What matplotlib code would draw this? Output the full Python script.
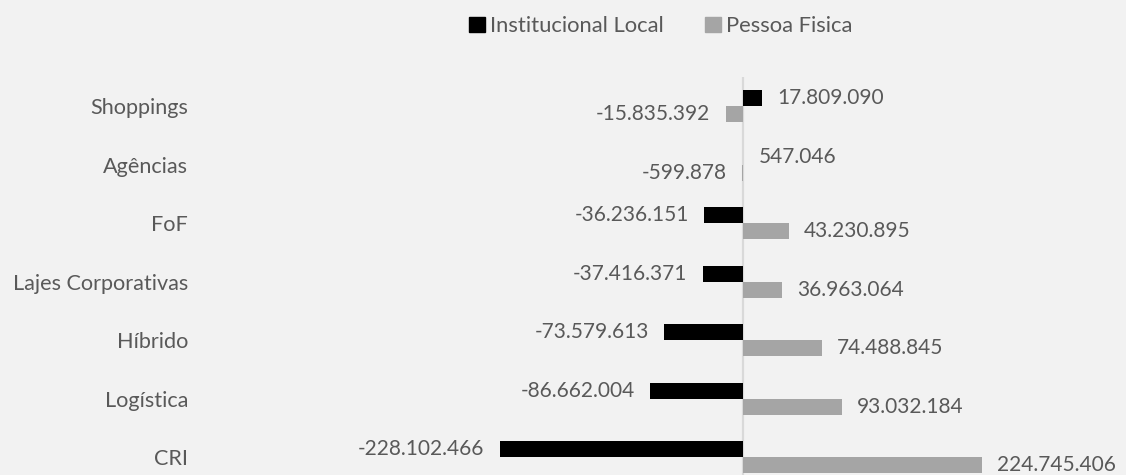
import matplotlib.pyplot as plt
from matplotlib.patches import Patch

# data (Shoppings at top)
categories = ["Shoppings", "Agências", "FoF", "Lajes Corporativas", "Híbrido", "Logística", "CRI"]
institucional_local = [17809090, 547046, -36236151, -37416371, -73579613, -86662004, -228102466]
pessoa_fisica = [-15835392, -599878, 43230895, 36963064, 74488845, 93032184, 224745406]
series_names = ["Institucional Local", "Pessoa Fisica"]

BG = "#F2F2F2"
TXT = "#595959"
plt.rcParams["font.family"] = ["Lato", "DejaVu Sans"]


def fmt_br(v):
    return f"{v:,}".replace(",", ".")


fig = plt.figure(figsize=(11.26, 4.75), dpi=100, facecolor=BG)
ax = fig.add_axes([0.18, -0.024, 0.82, 0.862])
ax.set_facecolor(BG)

h = 0.275
pos = list(range(len(categories)))
y_inst = [p - h / 2 for p in pos]
y_pf = [p + h / 2 for p in pos]

ax.axvline(0, color="#D9D9D9", lw=1.6, zorder=1)
ax.barh(y_inst, institucional_local, height=h, color="black", zorder=2)
ax.barh(y_pf, pessoa_fisica, height=h, color="#A5A5A5", zorder=2)

# data labels at the outer end of each bar
for ys, vals in [(y_inst, institucional_local), (y_pf, pessoa_fisica)]:
    for y, v in zip(ys, vals):
        off = 11 if v >= 0 else -11
        ax.annotate(fmt_br(v), (v, y), xytext=(off, 0), textcoords="offset points",
                    ha="left" if v >= 0 else "right", va="center",
                    fontsize=15, color=TXT)

ax.set_xlim(-507e6, 360e6)
ax.set_ylim(len(categories) - 0.5, -0.5)
ax.set_yticks(pos)
ax.set_yticklabels(categories, fontsize=15.6, color=TXT)
ax.tick_params(axis="y", length=0, pad=10.5)
ax.set_xticks([])
for s in ax.spines.values():
    s.set_visible(False)

handles = [Patch(color="black"), Patch(color="#A5A5A5")]
leg = fig.legend(handles, series_names, loc="center", bbox_to_anchor=(0.587, 0.945),
                 ncol=2, frameon=False, fontsize=15.8, handlelength=0.7, handleheight=0.7,
                 handletextpad=0.25, columnspacing=1.9)
for t in leg.get_texts():
    t.set_color(TXT)

fig.savefig("out.png", dpi=100, facecolor=BG)
